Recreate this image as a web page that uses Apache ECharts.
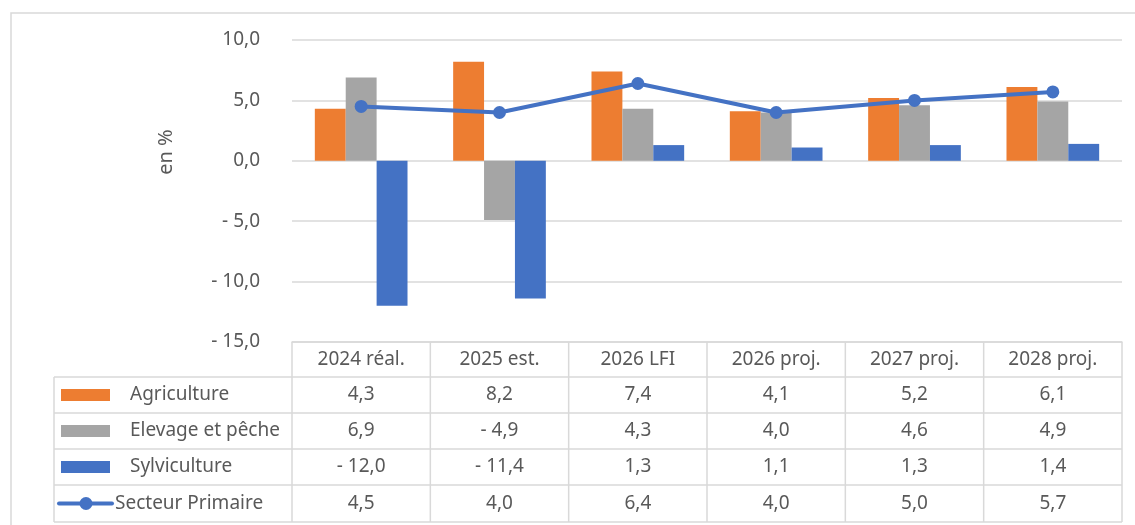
<!DOCTYPE html>
<html>
<head>
<meta charset="utf-8">
<script src="https://cdn.jsdelivr.net/npm/echarts@6/dist/echarts.min.js"></script>
<style>
  html, body { margin: 0; padding: 0; background: #fff; }
  #main { width: 1135px; height: 525px; }
</style>
</head>
<body>
<div id="main"></div>
<script>
var categories = ['2024 réal.', '2025 est.', '2026 LFI', '2026 proj.', '2027 proj.', '2028 proj.'];
var agriculture = [4.3, 8.2, 7.4, 4.1, 5.2, 6.1];
var elevage = [6.9, -4.9, 4.3, 4.0, 4.6, 4.9];
var sylviculture = [-12.0, -11.4, 1.3, 1.1, 1.3, 1.4];
var secteurPrimaire = [4.5, 4.0, 6.4, 4.0, 5.0, 5.7];
var seriesNames = ['Agriculture', 'Elevage et pêche', 'Sylviculture', 'Secteur Primaire'];
var colors = ['#ED7D31', '#A5A5A5', '#4472C4', '#4472C4'];

var FONT = 'Noto Sans';
var TXT = '#595959';
var LINE = '#D9D9D9';
var FS = 19;

// nombre au format français, "- 12,0" pour les négatifs
function fmt(v) {
  var s = Math.abs(v).toFixed(1).replace('.', ',');
  return v < 0 ? '- ' + s : s;
}

var myChart = echarts.init(document.getElementById('main'));

var gridLeft = 292, gridRight = 13, gridTop = 40, gridBottom = 183;

var option = {
  animation: false,
  color: colors,
  grid: { left: gridLeft, right: gridRight, top: gridTop, bottom: gridBottom },
  xAxis: {
    type: 'category',
    data: categories,
    axisLine: { onZero: false, lineStyle: { color: LINE, width: 1.5 } },
    axisTick: { show: false },
    axisLabel: { show: false }
  },
  yAxis: {
    type: 'value',
    min: -15,
    max: 10,
    interval: 5,
    axisLine: { show: false },
    axisTick: { show: false },
    splitLine: { lineStyle: { color: LINE, width: 1.5 } },
    axisLabel: {
      formatter: fmt,
      fontFamily: FONT,
      fontSize: FS,
      color: TXT,
      margin: 32
    }
  },
  series: [
    { name: seriesNames[0], type: 'bar', data: agriculture, barGap: '0%', barCategoryGap: '33%' },
    { name: seriesNames[1], type: 'bar', data: elevage, barGap: '0%', barCategoryGap: '33%' },
    { name: seriesNames[2], type: 'bar', data: sylviculture, barGap: '0%', barCategoryGap: '33%' },
    {
      name: seriesNames[3], type: 'line', data: secteurPrimaire,
      symbol: 'circle', symbolSize: 13,
      lineStyle: { width: 4, color: colors[3] },
      itemStyle: { color: colors[3] },
      z: 5
    }
  ]
};

myChart.setOption(option);

// tableau de données sous le graphique
var rowsData = [agriculture, elevage, sylviculture, secteurPrimaire];
var plotW = 1135 - gridLeft - gridRight;
var colW = plotW / categories.length;
var axisY = 525 - gridBottom;
var tableLeft = 54;
var rowLines = [377, 413, 449, 485, 522];
var font = FS + 'px "' + FONT + '"';
var g = [];

// cadre extérieur
g.push({ type: 'rect', shape: { x: 11, y: 13, width: 1300, height: 700 },
  style: { fill: null, stroke: LINE, lineWidth: 1.5 }, silent: true });

// lignes horizontales
rowLines.forEach(function (y) {
  g.push({ type: 'line', shape: { x1: tableLeft, y1: y, x2: gridLeft + plotW, y2: y },
    style: { stroke: LINE, lineWidth: 1.5 } });
});
// lignes verticales
g.push({ type: 'line', shape: { x1: tableLeft, y1: rowLines[0], x2: tableLeft, y2: rowLines[4] },
  style: { stroke: LINE, lineWidth: 1.5 } });
for (var i = 0; i <= categories.length; i++) {
  var x = gridLeft + colW * i;
  g.push({ type: 'line', shape: { x1: x, y1: axisY, x2: x, y2: rowLines[4] },
    style: { stroke: LINE, lineWidth: 1.5 } });
}

// en-têtes
categories.forEach(function (c, i) {
  var cx = myChart.convertToPixel({ xAxisIndex: 0 }, c);
  g.push({ type: 'text', x: cx, y: (axisY + rowLines[0]) / 2,
    style: { text: c, fill: TXT, font: font, align: 'center', verticalAlign: 'middle' } });
});

// lignes de valeurs + légende
rowsData.forEach(function (arr, r) {
  var cy = (rowLines[r] + rowLines[r + 1]) / 2;
  if (r < 3) {
    g.push({ type: 'rect', shape: { x: 61, y: cy - 6, width: 49, height: 12 }, style: { fill: colors[r] } });
    g.push({ type: 'text', x: 130, y: cy,
      style: { text: seriesNames[r], fill: TXT, font: font, verticalAlign: 'middle' } });
  } else {
    g.push({ type: 'line', shape: { x1: 59, y1: cy, x2: 112, y2: cy },
      style: { stroke: colors[3], lineWidth: 4, lineCap: 'round' } });
    g.push({ type: 'circle', shape: { cx: 86, cy: cy, r: 6.5 }, style: { fill: colors[3] } });
    g.push({ type: 'text', x: 115, y: cy,
      style: { text: seriesNames[r], fill: TXT, font: font, verticalAlign: 'middle' } });
  }
  arr.forEach(function (v, i) {
    var cx = myChart.convertToPixel({ xAxisIndex: 0 }, categories[i]);
    g.push({ type: 'text', x: cx, y: cy,
      style: { text: fmt(v), fill: TXT, font: font, align: 'center', verticalAlign: 'middle' } });
  });
});

// titre de l'axe
g.push({ type: 'text', x: 166, y: 152, rotation: Math.PI / 2,
  style: { text: 'en %', fill: TXT, font: '20px "' + FONT + '"', align: 'center', verticalAlign: 'middle' } });

myChart.setOption({ graphic: g });
</script>
</body>
</html>
